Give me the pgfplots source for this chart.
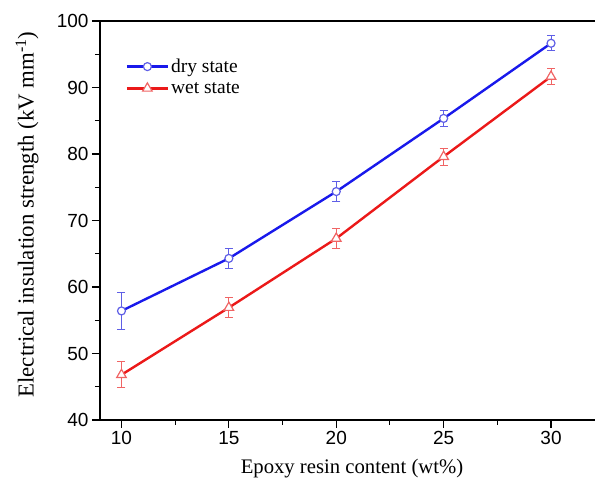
\documentclass[border=0pt]{standalone}
\usepackage{fontspec}
\setmainfont{Liberation Serif}
\newfontfamily\sansnum{Liberation Sans}
\usepackage{pgfplots}
\pgfplotsset{compat=1.18}
\definecolor{dryline}{RGB}{25,25,235}
\definecolor{drymark}{RGB}{95,95,230}
\definecolor{wetline}{RGB}{235,25,25}
\definecolor{wetmark}{RGB}{240,100,100}
\pgfplotstableread{
x y e
10 56.4 2.75
15 64.3 1.45
20 74.35 1.5
25 85.35 1.15
30 96.65 1.15
}\dry
\pgfplotstableread{
x y e
10 46.8 1.95
15 56.9 1.5
20 67.3 1.5
25 79.6 1.3
30 91.65 1.25
}\wet
\begin{document}
\begin{tikzpicture}
\begin{axis}[
  name=ax,
  scale only axis, width=500pt, height=399pt,
  xmin=9, xmax=32.28, ymin=40, ymax=100,
  xtick={10,15,20,25,30}, ytick={40,50,60,70,80,90,100},
  minor x tick num=1, minor y tick num=1,
  tick align=outside, tick pos=left,
  major tick length=8pt, minor tick length=5pt,
  every tick/.style={black, line width=1.1pt},
  axis line style={line width=1.3pt},
  ticklabel style={font=\sansnum\fontsize{19}{19}\selectfont},
  /pgf/number format/assume math mode=true,
  xlabel={Epoxy resin content (wt\%)},
  ylabel={Electrical insulation strength (kV mm\textsuperscript{-1})},
  xlabel style={font=\fontsize{20.7}{21}\selectfont, at={(axis description cs:0.504,-0.1228)}, anchor=center},
  ylabel style={font=\fontsize{22.8}{23}\selectfont, at={(axis description cs:-0.146,0.515)}, anchor=center},
  legend style={draw=none, fill=none, at={(axis description cs:0.045,0.915)}, anchor=north west,
    font=\fontsize{19.5}{19.5}\selectfont, row sep=4pt},
  legend cell align=left,
  legend image code/.code={\draw[mark repeat=2,mark phase=2] plot coordinates {(0pt,0pt) (20.5pt,0pt) (41pt,0pt)};},
]
\addplot[dryline, line width=2.4pt, mark=*, mark size=4pt,
  mark options={draw=drymark, fill=white, line width=1.2pt},
  error bars/.cd, y dir=both, y explicit,
  error bar style={drymark, line width=1pt},
  error mark options={drymark, rotate=90, mark size=4pt, line width=1pt}]
  table[x=x, y=y, y error=e] {\dry};
\addlegendentry{dry state}
\addplot[wetline, line width=2.4pt, mark=triangle*, mark size=5.5pt,
  mark options={draw=wetmark, fill=white, line width=1.2pt},
  error bars/.cd, y dir=both, y explicit,
  error bar style={wetmark, line width=1pt},
  error mark options={wetmark, rotate=90, mark size=4pt, line width=1pt}]
  table[x=x, y=y, y error=e] {\wet};
\addlegendentry{wet state}
\end{axis}
\pgfresetboundingbox
\useasboundingbox ([shift={(-100pt,-65pt)}]ax.south west) rectangle ([shift={(-5pt,21pt)}]ax.north east);
\end{tikzpicture}
\end{document}
